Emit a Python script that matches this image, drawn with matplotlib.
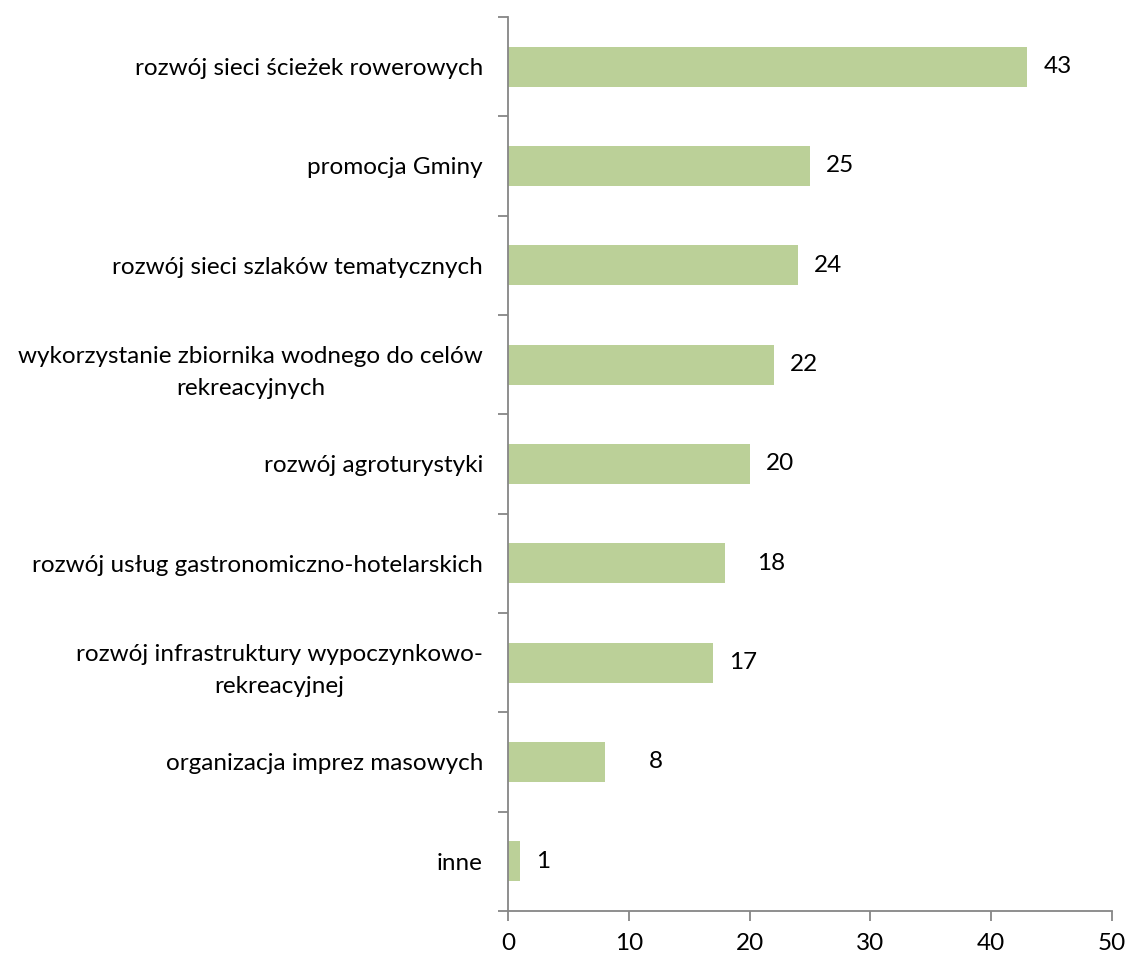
import matplotlib
matplotlib.use("Agg")
import matplotlib.pyplot as plt

categories = [
    "rozwój sieci ścieżek rowerowych",
    "promocja Gminy",
    "rozwój sieci szlaków tematycznych",
    "wykorzystanie zbiornika wodnego do celów\nrekreacyjnych",
    "rozwój agroturystyki",
    "rozwój usług gastronomiczno-hotelarskich",
    "rozwój infrastruktury wypoczynkowo-\nrekreacyjnej",
    "organizacja imprez masowych",
    "inne",
]
values = [43, 25, 24, 22, 20, 18, 17, 8, 1]
x_ticks = [0, 10, 20, 30, 40, 50]
# extra label offsets (px) to mimic manually moved labels
label_extra = [0, 0, 0, 0, 0, 16, 0, 28, 0]

plt.rcParams['font.family'] = ['Lato', 'DejaVu Sans']
FS = 17.5

fig = plt.figure(figsize=(11.27, 9.56), dpi=100)
ax = fig.add_axes([508/1127, 1 - 911/956, (1112-508)/1127, (911-17)/956])

n = len(categories)
ypos = list(range(n))
ax.barh(ypos, values, height=0.40, color="#BBD098", zorder=2)
ax.set_ylim(n - 0.5, -0.5)
ax.set_xlim(0, 50)

ax.set_xticks(x_ticks)
ax.set_xticklabels([str(t) for t in x_ticks], fontsize=FS)
ax.set_yticks(ypos)
ax.set_yticklabels(categories, fontsize=FS, multialignment='center', linespacing=1.65)
ax.tick_params(axis='y', length=0, pad=18)

# minor ticks at category boundaries
ax.set_yticks([i - 0.5 for i in range(n + 1)], minor=True)
ax.tick_params(axis='y', which='minor', length=7, width=1.3, color='#868686', direction='out')
ax.tick_params(axis='x', length=7, width=1.3, color='#868686', direction='out', pad=9)

for s in ['top', 'right']:
    ax.spines[s].set_visible(False)
for s in ['left', 'bottom']:
    ax.spines[s].set_color('#868686')
    ax.spines[s].set_linewidth(1.3)

for y, v, ex in zip(ypos, values, label_extra):
    ax.annotate(str(v), xy=(v, y), xytext=(11.5 + ex * 0.72, 0), textcoords='offset points',
                ha='left', va='center', fontsize=FS, color='black')

fig.savefig("out.png", dpi=100)
